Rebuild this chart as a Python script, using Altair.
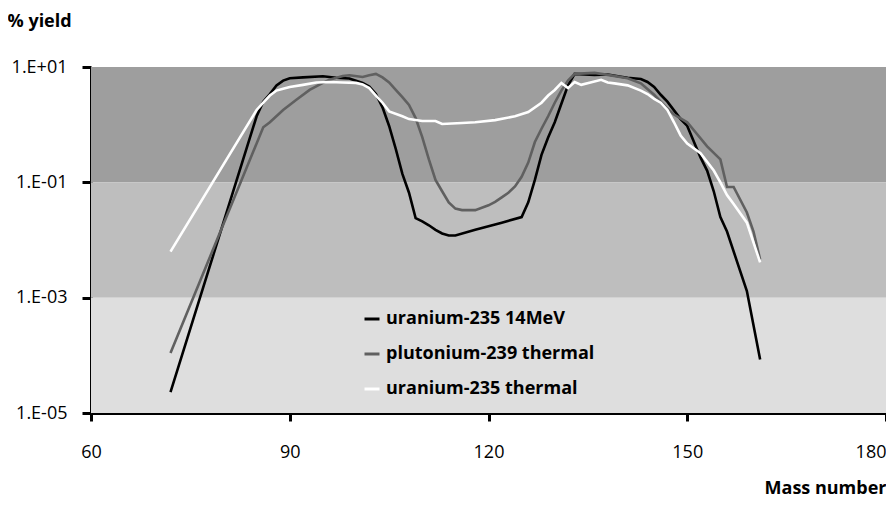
import altair as alt
import pandas as pd

# ---------------- data ----------------
series_names = ["uranium-235 14MeV", "plutonium-239 thermal", "uranium-235 thermal"]

mass_u235_14mev = [72, 85, 86, 87, 88, 89, 90, 92, 95, 97, 99, 100, 101, 102, 103, 104, 105,
                   106, 107, 108, 109, 110, 111, 112, 113, 114, 115, 118, 122, 125, 126, 127,
                   128, 129, 130, 131, 132, 133, 136, 138, 140, 141, 143, 144, 145, 146, 147,
                   149, 150, 152, 153, 154, 155, 156, 159, 161]
yield_u235_14mev = [2.3e-5, 1.4, 2.5, 3.4, 4.8, 5.8, 6.4, 6.6, 6.9, 6.5, 6.3, 5.8, 5.3, 4.6,
                    3.4, 2.0, 0.95, 0.38, 0.14, 0.066, 0.024, 0.021, 0.018, 0.015, 0.013,
                    0.012, 0.012, 0.015, 0.020, 0.025, 0.045, 0.11, 0.3, 0.6, 1.1, 2.3, 4.8,
                    7.6, 7.3, 7.4, 6.8, 6.5, 6.2, 5.5, 4.5, 3.3, 2.5, 1.25, 0.95, 0.27, 0.16,
                    0.07, 0.025, 0.014, 0.0013, 8.5e-5]

mass_pu239 = [72, 86, 87, 89, 91, 93, 95, 96, 98, 99, 101, 102, 103, 104, 105, 106, 107, 108,
              109, 110, 111, 112, 113, 114, 115, 116, 118, 120, 121, 122, 123, 124, 125, 126,
              127, 128, 129, 130, 131, 132, 133, 136, 138, 141, 143, 145, 147, 148, 150, 153,
              155, 156, 157, 159, 160, 161]
yield_pu239 = [1.1e-4, 0.9, 1.1, 1.8, 2.7, 4.0, 5.3, 6.0, 7.0, 7.2, 6.7, 7.2, 7.6, 6.6, 5.4,
               4.0, 3.0, 2.2, 1.3, 0.61, 0.25, 0.11, 0.07, 0.045, 0.035, 0.033, 0.033, 0.04,
               0.046, 0.055, 0.066, 0.085, 0.125, 0.22, 0.5, 0.85, 1.4, 2.4, 3.9, 5.8, 7.6,
               7.9, 7.3, 6.4, 5.2, 3.3, 1.9, 1.5, 1.1, 0.42, 0.25, 0.083, 0.083, 0.03, 0.014,
               0.0046]

mass_u235_th = [72, 85, 86, 87, 88, 89, 90, 92, 94, 96, 98, 100, 101, 102, 103, 104, 105, 107,
                108, 110, 112, 113, 116, 118, 121, 124, 126, 128, 129, 130, 131, 132, 133,
                134, 137, 138, 139, 141, 143, 144, 145, 146, 147, 148, 149, 150, 152, 154,
                155, 156, 157, 159, 161]
yield_u235_th = [0.0063, 1.8, 2.4, 3.2, 3.9, 4.2, 4.5, 4.9, 5.4, 5.5, 5.4, 5.3, 5.0, 4.3, 3.2,
                 2.4, 1.7, 1.4, 1.25, 1.16, 1.16, 1.03, 1.07, 1.1, 1.2, 1.4, 1.66, 2.4, 3.2,
                 4.0, 5.3, 4.3, 5.5, 4.9, 6.0, 5.4, 5.2, 4.8, 3.9, 3.4, 2.8, 2.4, 1.8, 1.1,
                 0.65, 0.47, 0.32, 0.16, 0.1, 0.06, 0.042, 0.02, 0.0041]

band_names = ["high", "mid", "low"]
band_top = [10, 0.1, 0.001]
band_bottom = [0.1, 0.001, 0.00001]

x_ticks = [60, 90, 120, 150, 180]
y_ticks = [10, 0.1, 0.001, 0.00001]

# ---------------- tables ----------------
rows = []
for name, ms, ys in [(series_names[0], mass_u235_14mev, yield_u235_14mev),
                     (series_names[1], mass_pu239, yield_pu239),
                     (series_names[2], mass_u235_th, yield_u235_th)]:
    for m, y in zip(ms, ys):
        rows.append({"series": name, "mass": m, "yield": y})
df = pd.DataFrame(rows)

band_df = pd.DataFrame({
    "band": band_names,
    "top": band_top,
    "bottom": band_bottom,
    "x0": [x_ticks[0]] * 3,
    "x1": [x_ticks[-1]] * 3,
})

FONT = "Open Sans"
W, H = 795, 346

x_scale = alt.Scale(domain=[x_ticks[0], x_ticks[-1]], nice=False, zero=False)
y_scale = alt.Scale(type="log", domain=[y_ticks[-1], y_ticks[0]], nice=False)

exp_expr = "round(log(datum.value)/LN10)"
y_label_expr = ("'1.E' + (" + exp_expr + " >= 0 ? '+' : '-') + (abs(" + exp_expr +
                ") < 10 ? '0' : '') + abs(" + exp_expr + ")")

x_axis = alt.Axis(values=x_ticks, title="Mass number", grid=False,
                  domainColor="black", domainWidth=3, tickColor="black", tickWidth=3,
                  tickSize=8, labelFont=FONT, labelFontSize=18, labelColor="black",
                  labelPadding=22, labelFlush=False,
                  labelAlign={"condition": {"test": f"datum.value == {x_ticks[-1]}",
                                            "value": "right"}, "value": "center"},
                  titleFont=FONT, titleFontSize=18, titleFontWeight="bold",
                  titleColor="black", titleX=W, titleY=80, titleAlign="right",
                  titleBaseline="alphabetic")
y_axis = alt.Axis(values=y_ticks, title="% yield", grid=False, labelExpr=y_label_expr,
                  domainColor="black", domainWidth=3, tickColor="black", tickWidth=3,
                  tickSize=9, labelFont=FONT, labelFontSize=18, labelColor="black",
                  labelPadding=15, labelFlush=False,
                  titleFont=FONT, titleFontSize=18, titleFontWeight="bold",
                  titleColor="black", titleAngle=0, titleX=-84, titleY=-41,
                  titleAlign="left", titleBaseline="alphabetic")

bands = alt.Chart(band_df).mark_rect().encode(
    x=alt.X("x0:Q", scale=x_scale, axis=x_axis),
    x2="x1:Q",
    y=alt.Y("top:Q", scale=y_scale, axis=y_axis),
    y2="bottom:Q",
    fill=alt.Fill("band:N", scale=alt.Scale(domain=band_names,
                                             range=["#9e9e9e", "#bebebe", "#dedede"]),
                  legend=None),
)

lines = alt.Chart(df).mark_line(strokeWidth=2.6).encode(
    x=alt.X("mass:Q", scale=x_scale, axis=x_axis),
    y=alt.Y("yield:Q", scale=y_scale, axis=y_axis),
    stroke=alt.Stroke("series:N",
                      scale=alt.Scale(domain=series_names,
                                      range=["#000000", "#606060", "#ffffff"]),
                      sort=series_names,
                      legend=alt.Legend(title=None, orient="none", legendX=272, legendY=243,
                                        symbolType="stroke", symbolSize=225,
                                        symbolStrokeWidth=3, labelFont=FONT,
                                        labelFontSize=18, labelFontWeight="bold",
                                        labelColor="black", labelOffset=5, rowPadding=17,
                                        labelLimit=0, padding=0)),
)

chart = alt.layer(bands, lines).properties(
    width=W, height=H,
    autosize=alt.AutoSizeParams(type="none"),
    padding={"left": 83, "top": 59, "right": 0, "bottom": 85},
).configure_view(stroke=None).configure(background="white")

chart.save("out.html", embed_options={"renderer": "svg", "actions": False})
